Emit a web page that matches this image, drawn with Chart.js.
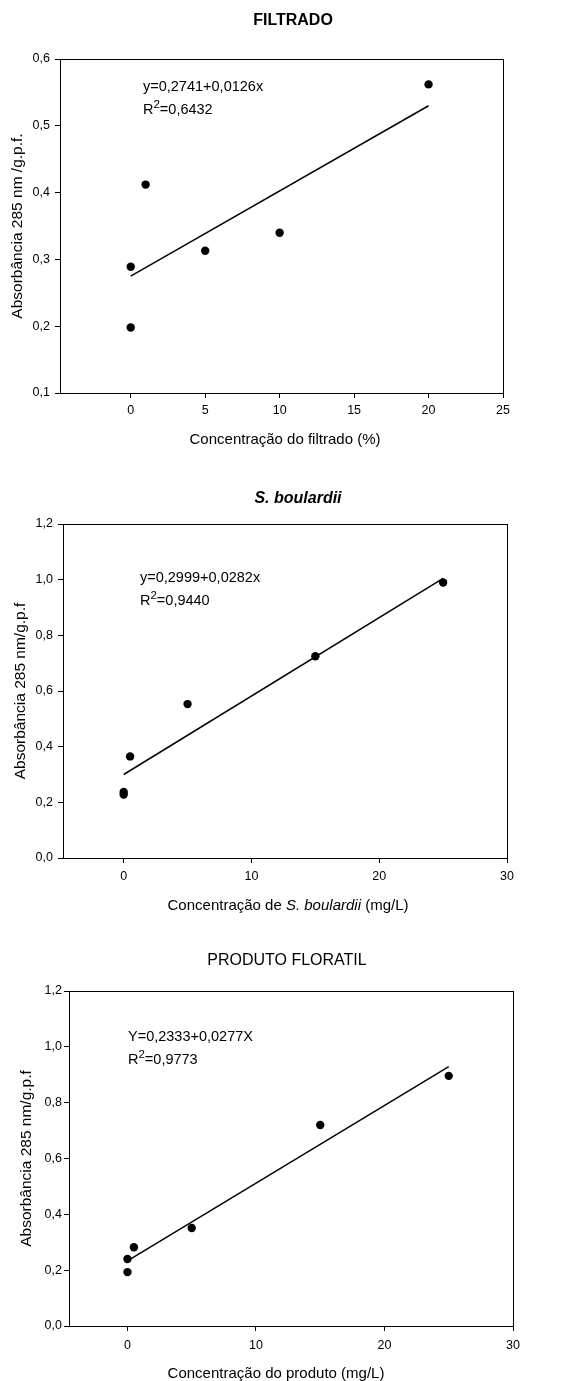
<!DOCTYPE html>
<html lang="pt">
<head>
<meta charset="utf-8">
<title>Absorbância 285 nm</title>
<script src="https://cdn.jsdelivr.net/npm/chart.js@4.4.1/dist/chart.umd.min.js"></script>
<style>
html, body { margin: 0; padding: 0; background: #fff; }
#pagina { position: relative; width: 566px; height: 1381px; }
canvas { position: absolute; left: 0; }
</style>
</head>
<body>
<div id="pagina">
  <canvas id="graf1" width="566" height="460" style="top:0px"></canvas>
  <canvas id="graf2" width="566" height="460" style="top:460px"></canvas>
  <canvas id="graf3" width="566" height="461" style="top:920px"></canvas>
</div>
<script>
// valores
var filtradoX = [0, 0, 1, 5, 10, 20];
var filtradoY = [0.198, 0.289, 0.412, 0.313, 0.340, 0.562];
var filtradoRetaX = [0, 20];
var filtradoRetaY = [0.275, 0.530];

var boulardiiX = [0, 0, 0.5, 5, 15, 25];
var boulardiiY = [0.228, 0.237, 0.365, 0.553, 0.725, 0.990];
var boulardiiRetaX = [0, 25];
var boulardiiRetaY = [0.300, 1.005];

var floratilX = [0, 0, 0.5, 5, 15, 25];
var floratilY = [0.193, 0.240, 0.282, 0.351, 0.720, 0.896];
var floratilRetaX = [0, 25];
var floratilRetaY = [0.233, 0.929];

var ticksX1 = [0, 5, 10, 15, 20, 25];
var ticksY1 = [0.1, 0.2, 0.3, 0.4, 0.5, 0.6];
var ticksX2 = [0, 10, 20, 30];
var ticksY2 = [0, 0.2, 0.4, 0.6, 0.8, 1.0, 1.2];

var FONTE = '"Liberation Sans", Arial, sans-serif';

function pares(xs, ys) {
    var out = [];
    for (var i = 0; i < xs.length; i++) out.push({x: xs[i], y: ys[i]});
    return out;
}

// desenha moldura e textos livres (titulo, equacao, titulo do eixo x)
var textos = {
    id: 'textos',
    afterDraw: function(chart, args, opts) {
        var ctx = chart.ctx;
        var a = chart.chartArea;
        ctx.save();
        ctx.strokeStyle = '#000';
        ctx.lineWidth = 1;
        ctx.strokeRect(Math.round(a.left) + 0.5, Math.round(a.top) + 0.5,
            Math.round(a.right - a.left), Math.round(a.bottom - a.top));
        ctx.fillStyle = '#000';
        ctx.textBaseline = 'middle';
        ctx.textAlign = 'left';
        (opts.itens || []).forEach(function(it) {
            var w = 0;
            it.partes.forEach(function(p) {
                ctx.font = p.font || it.font;
                w += ctx.measureText(p.t).width;
            });
            var x = it.centro ? it.x - w / 2 : it.x;
            it.partes.forEach(function(p) {
                ctx.font = p.font || it.font;
                ctx.fillText(p.t, x, it.y + (p.dy || 0));
                x += ctx.measureText(p.t).width;
            });
        });
        ctx.restore();
    }
};

function grafico(id, g) {
    var canvas = document.getElementById(id);
    var H = canvas.height;
    return new Chart(canvas.getContext('2d'), {
        type: 'scatter',
        data: {
            datasets: [{
                data: pares(g.x, g.y),
                backgroundColor: '#000',
                borderWidth: 0,
                pointRadius: 4.2
            }, {
                data: pares(g.retaX, g.retaY),
                showLine: true,
                borderColor: '#000',
                borderWidth: 1.5,
                pointRadius: 0
            }]
        },
        options: {
            responsive: false,
            animation: false,
            layout: { padding: { left: 0, top: g.area.top, right: 566 - g.area.right, bottom: 0 } },
            plugins: {
                legend: { display: false },
                tooltip: { enabled: false },
                textos: { itens: g.itens }
            },
            scales: {
                x: {
                    type: 'linear',
                    min: g.xMin, max: g.xMax,
                    afterBuildTicks: function(s) { s.ticks = g.ticksX.map(function(v) { return {value: v}; }); },
                    afterFit: function(s) { s.height = H - g.area.bottom; },
                    grid: { drawOnChartArea: false, drawTicks: true, tickLength: 5, color: '#000' },
                    border: { display: true, color: '#000', width: 1 },
                    ticks: {
                        color: '#000', maxRotation: 0, padding: g.padX,
                        font: { family: FONTE, size: 12.5 },
                        callback: function(v) { return String(v); }
                    }
                },
                y: {
                    type: 'linear',
                    min: g.yMin, max: g.yMax,
                    afterBuildTicks: function(s) { s.ticks = g.ticksY.map(function(v) { return {value: v}; }); },
                    afterFit: function(s) { s.width = g.area.left; },
                    grid: { drawOnChartArea: false, drawTicks: true, tickLength: 5, color: '#000' },
                    border: { display: true, color: '#000', width: 1 },
                    ticks: {
                        color: '#000', padding: g.padY,
                        font: { family: FONTE, size: 12.5 },
                        callback: function(v) { return v.toFixed(1).replace('.', ','); }
                    },
                    title: {
                        display: true, text: g.tituloY, color: '#000',
                        font: { family: FONTE, size: 15.5 },
                        padding: { top: g.padTituloY, bottom: 0 }
                    }
                }
            }
        },
        plugins: [textos]
    });
}

var fEq = '14.5px ' + FONTE;
var fSup = '11.5px ' + FONTE;
var fEixo = '15px ' + FONTE;

grafico('graf1', {
    x: filtradoX, y: filtradoY, retaX: filtradoRetaX, retaY: filtradoRetaY,
    xMin: -4.75, xMax: 25, yMin: 0.1, yMax: 0.6,
    ticksX: ticksX1, ticksY: ticksY1,
    area: { left: 60, top: 59, right: 503, bottom: 393 },
    padX: 5, padY: 5, padTituloY: 8,
    tituloY: 'Absorbância 285 nm /g.p.f.',
    itens: [
        { x: 293, y: 21, centro: true, font: 'bold 16px ' + FONTE, partes: [{t: 'FILTRADO'}] },
        { x: 143, y: 87, font: fEq, partes: [{t: 'y=0,2741+0,0126x'}] },
        { x: 143, y: 110, font: fEq, partes: [{t: 'R'}, {t: '2', font: fSup, dy: -5}, {t: '=0,6432'}] },
        { x: 285, y: 440, centro: true, font: fEixo, partes: [{t: 'Concentração do filtrado (%)'}] }
    ]
});

grafico('graf2', {
    x: boulardiiX, y: boulardiiY, retaX: boulardiiRetaX, retaY: boulardiiRetaY,
    xMin: -4.75, xMax: 30, yMin: 0, yMax: 1.2,
    ticksX: ticksX2, ticksY: ticksY2,
    area: { left: 63, top: 64, right: 507, bottom: 398 },
    padX: 6, padY: 5, padTituloY: 11,
    tituloY: 'Absorbância 285 nm/g.p.f',
    itens: [
        { x: 298, y: 39, centro: true, font: 'italic bold 16px ' + FONTE, partes: [{t: 'S. boulardii'}] },
        { x: 140, y: 118, font: fEq, partes: [{t: 'y=0,2999+0,0282x'}] },
        { x: 140, y: 141, font: fEq, partes: [{t: 'R'}, {t: '2', font: fSup, dy: -5}, {t: '=0,9440'}] },
        { x: 288, y: 446, centro: true, font: fEixo,
          partes: [{t: 'Concentração de '}, {t: 'S. boulardii', font: 'italic 15px ' + FONTE}, {t: ' (mg/L)'}] }
    ]
});

grafico('graf3', {
    x: floratilX, y: floratilY, retaX: floratilRetaX, retaY: floratilRetaY,
    xMin: -4.55, xMax: 30, yMin: 0, yMax: 1.2,
    ticksX: ticksX2, ticksY: ticksY2,
    area: { left: 69, top: 71, right: 513, bottom: 406 },
    padX: 7, padY: 2, padTituloY: 17,
    tituloY: 'Absorbância 285 nm/g.p.f',
    itens: [
        { x: 287, y: 41, centro: true, font: '16px ' + FONTE, partes: [{t: 'PRODUTO FLORATIL'}] },
        { x: 128, y: 117, font: fEq, partes: [{t: 'Y=0,2333+0,0277X'}] },
        { x: 128, y: 140, font: fEq, partes: [{t: 'R'}, {t: '2', font: fSup, dy: -5}, {t: '=0,9773'}] },
        { x: 276, y: 454, centro: true, font: fEixo, partes: [{t: 'Concentração do produto (mg/L)'}] }
    ]
});
</script>
</body>
</html>
